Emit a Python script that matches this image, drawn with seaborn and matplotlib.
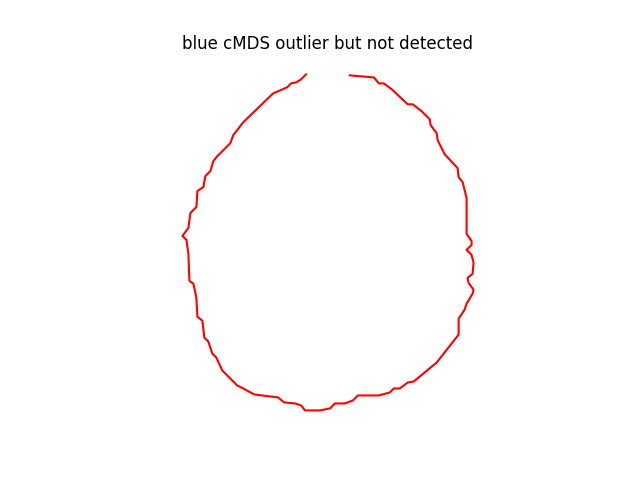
import matplotlib
matplotlib.use("Agg")
import matplotlib.pyplot as plt
import seaborn as sns
import pandas as pd

# outline, starting at the top-left end and going round
x = [306, 301, 296, 291, 287, 273, 243, 233, 230, 217, 213, 210, 205, 203, 197,
     196, 190, 188, 185, 182, 186, 188, 189, 193, 196, 197, 202, 204, 208, 212,
     216, 222, 237, 243, 254, 278, 284, 295, 301, 305, 320, 330, 335, 345, 353,
     358, 379, 390, 394, 400, 408, 414, 437, 459, 459, 465, 467, 473, 474, 469,
     468, 473, 474, 472, 467, 472, 472, 467, 467, 463, 459, 458, 445, 438, 437,
     431, 430, 422, 413, 408, 392, 384, 379, 374, 350]
y_px = [73, 78, 81, 82, 86, 92, 121, 134, 142, 155, 160, 170, 175, 186, 190,
        206, 212, 227, 231, 235, 239, 253, 280, 283, 297, 316, 320, 337, 341, 353,
        357, 370, 385, 388, 394, 397, 402, 403, 405, 410, 410, 408, 403, 403, 400,
        395, 395, 392, 388, 388, 382, 381, 362, 334, 318, 309, 303, 293, 289, 282,
        277, 273, 262, 254, 249, 244, 240, 233, 197, 181, 176, 167, 153, 139, 132,
        124, 118, 110, 103, 103, 88, 82, 82, 76, 74]
y = [-v for v in y_px]

title = "blue cMDS outlier but not detected"

df = pd.DataFrame({"x": x, "y": y})

fig, ax = plt.subplots(figsize=(6.4, 4.8), dpi=100)
sns.lineplot(data=df, x="x", y="y", sort=False, estimator=None, color="red", ax=ax)
ax.set_aspect("equal")
ax.axis("off")
ax.set_title(title)

fig.savefig("out.png", dpi=100)
